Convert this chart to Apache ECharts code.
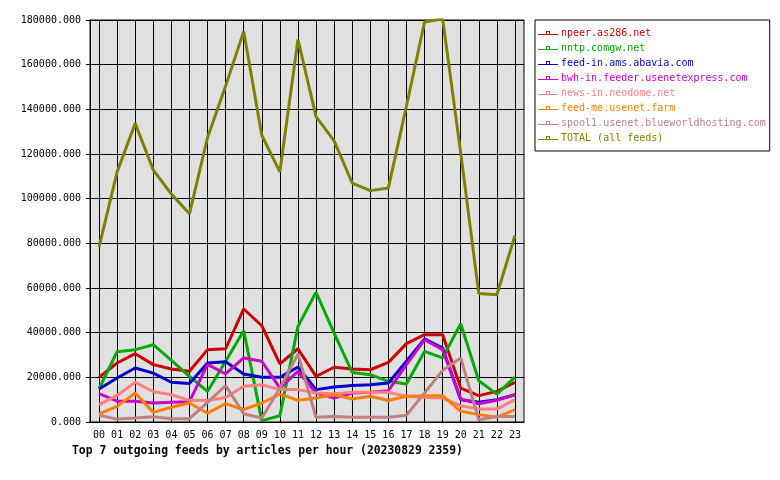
<!DOCTYPE html>
<html><head><meta charset="utf-8">
<script src="https://cdn.jsdelivr.net/npm/echarts@6/dist/echarts.min.js"></script>
<style>html,body{margin:0;padding:0;background:#fff}#c{width:780px;height:480px}</style>
</head><body><div id="c"></div>
<script>
var hours = ["00","01","02","03","04","05","06","07","08","09","10","11","12","13","14","15","16","17","18","19","20","21","22","23"];
var seriesNames = ["npeer.as286.net","nntp.comgw.net","feed-in.ams.abavia.com","bwh-in.feeder.usenetexpress.com","news-in.neodome.net","feed-me.usenet.farm","spool1.usenet.blueworldhosting.com","TOTAL (all feeds)"];
var npeer  = [20000,26400,30600,25700,23700,22700,32400,32800,50600,43100,26000,32800,20400,24500,23700,23400,26700,35100,39100,39100,15200,11800,13700,17800];
var nntp   = [14900,31500,32400,34600,27600,20400,13700,27200,40900,600,2800,42800,58100,39800,22200,21200,18200,17000,31600,28700,44000,18500,12500,20100];
var abavia = [14800,19700,24200,21900,17800,17200,26400,27000,21500,20000,20000,24600,14500,15700,16300,16700,17500,27200,37200,33100,10000,8800,10000,12200];
var bwh    = [12700,9300,9300,8500,8800,9100,25800,21500,28700,27200,15200,22700,13000,10700,13000,13300,14000,25700,36900,32400,10300,8200,9700,12200];
var neodome= [7800,11900,17800,13600,12200,9700,9600,11000,16000,16700,14500,14500,13000,12700,13300,13300,13300,11500,11000,10700,7300,5800,5800,10000];
var farm   = [3600,7000,13000,4300,6600,8500,4000,8200,5500,8500,12500,9700,10700,12200,10300,11500,9600,11500,11800,11800,4800,3300,2100,5500];
var spool1 = [3000,1300,1800,2400,1500,1500,8800,16300,3700,1800,15200,30500,2100,2500,2100,2100,2100,3000,13000,23100,28700,1000,2500,2500];
var total  = [78300,112000,133700,112800,102100,93200,127400,150400,174900,128400,112000,171200,136700,125900,107000,103600,104800,141500,179100,180600,120500,57500,57000,83500];
var yTicks = [0,20000,40000,60000,80000,100000,120000,140000,160000,180000];

var values = [npeer,nntp,abavia,bwh,neodome,farm,spool1,total];
var colors = ["#cc0000","#00aa00","#0000cc","#cc00cc","#ff8080","#ff8000","#c08080","#808000"];
var mono = "DejaVu Sans Mono";

// half-step helper axis so vertical grid lines fall on category centres
var halfSteps = [];
for (var k = 0; k <= hours.length * 2; k++) halfSteps.push('');

var chart = echarts.init(document.getElementById('c'), null, {renderer:'canvas'});
var series = seriesNames.map(function(n,i){
  return {name:n, type:'line', data:values[i], xAxisIndex:0, showSymbol:false, symbol:'none',
    lineStyle:{color:colors[i], width:3}, itemStyle:{color:colors[i]}, animation:false,
    emphasis:{disabled:true}};
});
chart.setOption({
  animation:false,
  backgroundColor:'#ffffff',
  title:{text:'Top 7 outgoing feeds by articles per hour (20230829 2359)', left:72, top:446, padding:0,
    textStyle:{fontFamily:mono, fontSize:11.4, fontWeight:'bold', color:'#000'}},
  legend:{orient:'vertical', left:535, top:20, selectedMode:false,
    backgroundColor:'#fff', borderColor:'#000', borderWidth:1, borderRadius:0,
    padding:[7,4,7,3], itemGap:3, itemWidth:20, itemHeight:5,
    icon:'path://M0,3L20,3L20,4L0,4Z M8,0L12,0L12,3L11,3L11,1L9,1L9,3L8,3Z',
    data:seriesNames.map(function(n,i){return {name:n, textStyle:{color:colors[i]}};}),
    textStyle:{fontFamily:mono, fontSize:10, lineHeight:12, padding:[0,0,0,-2]}},
  grid:{left:90, top:20, right:256, bottom:58, show:true, backgroundColor:'#e0e0e0', borderColor:'#000', borderWidth:1},
  xAxis:[{type:'category', data:hours, boundaryGap:true,
    axisLine:{lineStyle:{color:'#000', width:1}},
    axisTick:{alignWithLabel:true, length:4, lineStyle:{color:'#000'}},
    axisLabel:{color:'#000', fontFamily:mono, fontSize:10, margin:8, interval:0},
    splitLine:{show:false}},
   {type:'category', data:halfSteps, boundaryGap:false, position:'bottom',
    axisLine:{show:false}, axisTick:{show:false}, axisLabel:{show:false},
    splitLine:{show:true, interval:function(idx){return idx % 2 === 1;}, lineStyle:{color:'#000', width:1}}}],
  yAxis:{type:'value', min:yTicks[0], max:yTicks[yTicks.length-1], interval:20000,
    axisLine:{show:true, lineStyle:{color:'#000'}},
    axisTick:{show:true, length:4, lineStyle:{color:'#000'}},
    axisLabel:{color:'#000', fontFamily:mono, fontSize:10, margin:9, formatter:function(v){return v.toFixed(3);}},
    splitLine:{show:true, lineStyle:{color:'#000', width:1}}},
  series:series
});
</script></body></html>
